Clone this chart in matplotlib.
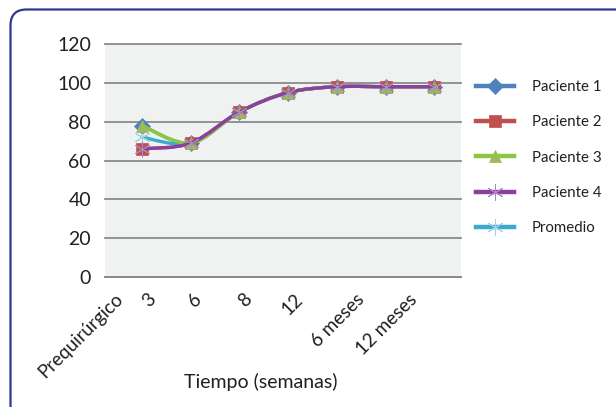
import matplotlib

matplotlib.use("Agg")
import matplotlib.pyplot as plt
from matplotlib.lines import Line2D
from matplotlib.patches import FancyBboxPatch, PathPatch
from matplotlib.path import Path
import numpy as np

plt.rcParams["font.family"] = ["Lato", "DejaVu Sans"]

categories = ["Prequirúrgico", "3", "6", "8", "12", "6 meses", "12 meses"]
paciente_1 = [78, 69, 85, 95, 98, 98, 98]
paciente_2 = [66, 69, 85, 95, 98, 98, 98]
paciente_3 = [78, 69, 85, 95, 98, 98, 98]
paciente_4 = [66, 69, 85, 95, 98, 98, 98]
promedio = [72, 69, 85, 95, 98, 98, 98]
y_ticks = [0, 20, 40, 60, 80, 100, 120]

TEXT = "#231F20"
GRID = "#8A8A8A"
BORDER = "#2B3990"


def smooth_path(xs, ys):
    # Excel-like smoothed line: cubic Bezier through the points
    pts = np.column_stack([xs, ys]).astype(float)
    verts = [pts[0]]
    codes = [Path.MOVETO]
    n = len(pts)
    for i in range(n - 1):
        p0 = pts[max(i - 1, 0)]
        p1 = pts[i]
        p2 = pts[i + 1]
        p3 = pts[min(i + 2, n - 1)]
        verts += [p1 + (p2 - p0) / 6.0, p2 - (p3 - p1) / 6.0, p2]
        codes += [Path.CURVE4] * 3
    return Path(verts, codes)


series = [
    ("Paciente 1", paciente_1, "#4F81BD", "#4F81BD", "D", 8, 2.0),
    ("Paciente 2", paciente_2, "#C0504D", "#C0504D", "s", 8, 2.1),
    ("Paciente 3", paciente_3, "#8DC63F", "#9BBB59", "^", 9, 2.3),
    ("Paciente 4", paciente_4, "#8B3F9E", "#A58BC4", (6, 2, 0), 12, 2.5),
    ("Promedio", promedio, "#3AAACF", "#9ED3E6", (6, 2, 0), 12, 2.2),
]

fig = plt.figure(figsize=(6.16, 4.07), dpi=100)
ax = fig.add_axes([105 / 616, 130 / 407, 356 / 616, 233 / 407])
ax.set_facecolor("#F0F1F1")

x = np.arange(len(categories))
handles = []
for name, values, line_color, marker_color, marker, msize, z in series:
    patch = PathPatch(smooth_path(x, values), facecolor="none", edgecolor=line_color,
                      linewidth=2.4, zorder=z, capstyle="round")
    ax.add_patch(patch)
    thin = not isinstance(marker, str)
    ax.plot(x, values, linestyle="none", marker=marker, markersize=msize,
            markerfacecolor=marker_color, markeredgecolor=marker_color,
            markeredgewidth=0.7 if thin else 0.5, zorder=z + 0.05)
    handles.append(Line2D([], [], color=line_color, linewidth=3.2, marker=marker,
                          markersize=msize, markerfacecolor=marker_color,
                          markeredgecolor=marker_color, markeredgewidth=0.7 if thin else 0.5))

ax.set_xlim(-0.76, 6.55)
ax.set_ylim(0, 120)
ax.set_yticks(y_ticks)
ax.set_yticklabels([str(v) for v in y_ticks], fontsize=14, color=TEXT)
ax.grid(True, axis="y", color=GRID, linewidth=1.3)
for gl in ax.get_ygridlines():
    gl.set_clip_on(False)
ax.set_axisbelow(True)
for side in ["top", "right", "left"]:
    ax.spines[side].set_visible(False)
ax.spines["bottom"].set_color(GRID)
ax.spines["bottom"].set_linewidth(1.3)
ax.tick_params(axis="y", length=0, pad=10)
ax.tick_params(axis="x", length=0, pad=14)

label_pos = [-0.45, 0.22, 1.16, 2.2, 3.25, 4.5, 5.6]
ax.set_xticks(label_pos)
ax.set_xticklabels(categories, rotation=45, ha="right", va="center",
                   rotation_mode="anchor", fontsize=13.5, color=TEXT)

ax.set_xlabel("Tiempo (semanas)", fontsize=14, color=TEXT)
ax.xaxis.set_label_coords(0.438, -0.41)

fig.legend(handles, [s[0] for s in series], loc="upper left",
           bbox_to_anchor=(476 / 616, 1 - 80 / 407), frameon=False,
           fontsize=10.8, handlelength=2.5, handletextpad=1.2,
           labelspacing=1.42, borderpad=0, borderaxespad=0, labelcolor=TEXT)

border = FancyBboxPatch((10.5, -30), 640, 427.5,
                        boxstyle="round,pad=0,rounding_size=16",
                        facecolor="none", edgecolor=BORDER, linewidth=1.6,
                        transform=None)
fig.add_artist(border)

fig.savefig("out.png", dpi=100)
